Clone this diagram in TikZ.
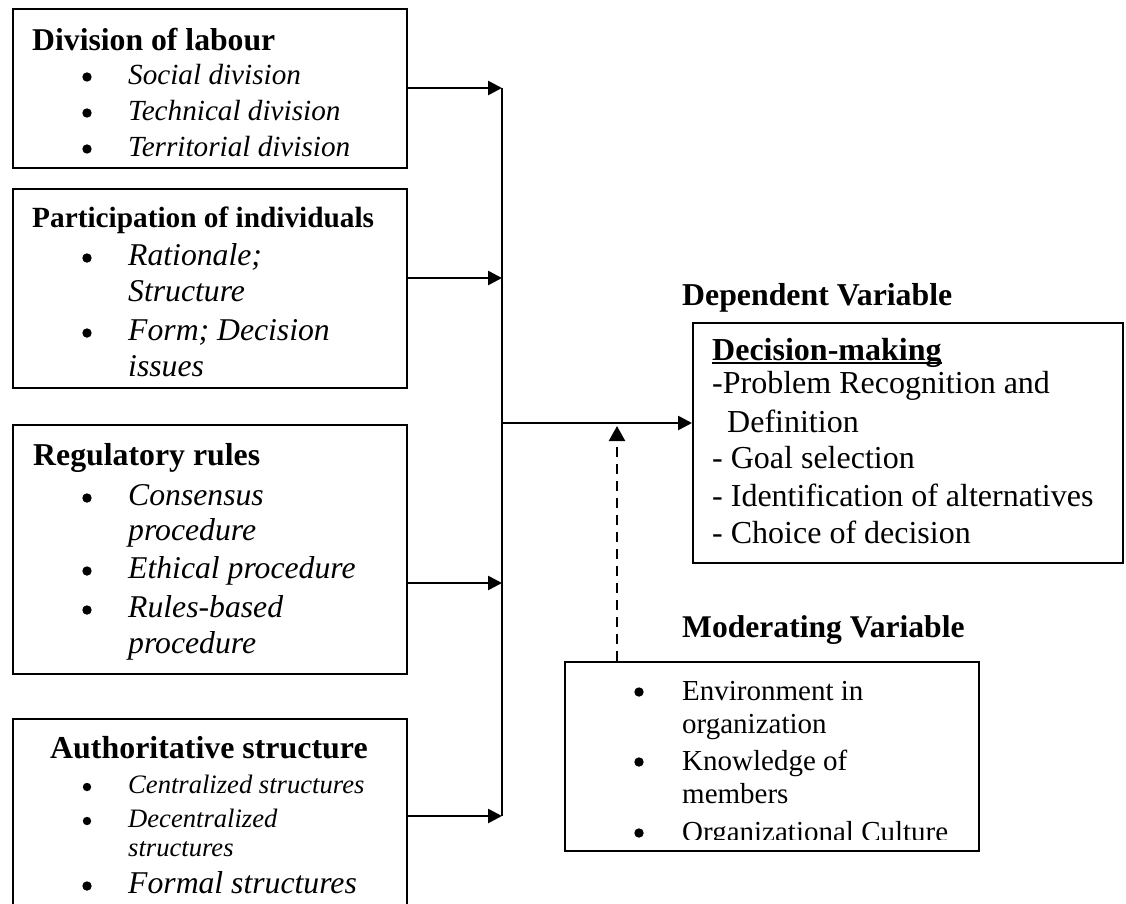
\documentclass[tikz,border=0pt]{standalone}
\usepackage{fontspec}
\setmainfont{Liberation Serif}
\usetikzlibrary{arrows.meta}
\tikzset{
  box/.style={draw, line width=2pt, anchor=north west, inner sep=0pt},
  txt/.style={anchor=base west, inner sep=0pt},
  link/.style={line width=2.6pt},
  arr/.style={line width=2.6pt, -{Triangle[length=14pt,width=14pt]}},
  dasharr/.style={line width=2.4pt, dash pattern=on 10pt off 7pt, -{Triangle[length=15pt,width=16pt]}},
}
\newcommand\fs[1]{\fontsize{#1}{#1}\selectfont}
\newcommand\bul[3]{\fill (#1,#2) circle (#3pt);}
\begin{document}
\begin{tikzpicture}[x=1pt,y=-1pt]
\clip (0,0) rectangle (1126,903);
\fill[white] (0,0) rectangle (1126,903);

% boxes
\node[box, minimum width=394pt, minimum height=159pt] (b1) at (12,8) {};
\node[box, minimum width=394pt, minimum height=199pt] (b2) at (12,188) {};
\node[box, minimum width=394pt, minimum height=249pt] (b3) at (12,424) {};
\node[box, minimum width=394pt, minimum height=200pt] (b4) at (12,718) {};
\node[box, minimum width=430pt, minimum height=240pt] (dep) at (692,322) {};
\node[box, minimum width=414pt, minimum height=189pt] (mod) at (564,661) {};

% box 1
\node[txt] (h1) at (32,50) {\fs{31.7}\bfseries Division of labour};
\bul{87}{77}{4.7}\bul{87}{113}{4.7}\bul{87}{149}{4.7}
\node[txt] (i1a) at (128,84) {\fs{29.2}\itshape Social division};
\node[txt] (i1b) at (128,120) {\fs{29.2}\itshape Technical division};
\node[txt] (i1c) at (128,156) {\fs{29.2}\itshape Territorial division};

% box 2
\node[txt] (h2) at (32,227) {\fs{29.3}\bfseries Participation of individuals};
\bul{87}{258}{4.7}\bul{87}{333}{4.7}
\node[txt] (i2a) at (128,265) {\fs{31.7}\itshape Rationale;};
\node[txt] (i2b) at (128,301) {\fs{31.7}\itshape Structure};
\node[txt] (i2c) at (128,340) {\fs{31.7}\itshape Form; Decision};
\node[txt] (i2d) at (128,376) {\fs{31.7}\itshape issues};

% box 3
\node[txt] (h3) at (33,465) {\fs{31.8}\bfseries Regulatory rules};
\bul{87}{498}{4.7}\bul{87}{571}{4.7}\bul{87}{610}{4.7}
\node[txt] (i3a) at (128,505) {\fs{31.7}\itshape Consensus};
\node[txt] (i3b) at (128,540) {\fs{31.7}\itshape procedure};
\node[txt] (i3c) at (128,578) {\fs{31.7}\itshape Ethical procedure};
\node[txt] (i3d) at (128,617) {\fs{31.7}\itshape Rules-based};
\node[txt] (i3e) at (128,653) {\fs{31.7}\itshape procedure};

% box 4
\node[txt] (h4) at (50,758) {\fs{31.9}\bfseries Authoritative structure};
\bul{87}{787}{4.2}\bul{87}{821}{4.2}\bul{87}{886}{4.7}
\node[txt] (i4a) at (128,793) {\fs{26.6}\itshape Centralized structures};
\node[txt] (i4b) at (128,827) {\fs{26.6}\itshape Decentralized};
\node[txt] (i4c) at (128,856) {\fs{26.6}\itshape structures};
\node[txt] (i4d) at (128,893) {\fs{31.7}\itshape Formal structures};

% dependent
\node[txt] (hdep) at (682,305) {\fs{31.8}\bfseries Dependent Variable};
\node[txt] (dm) at (712,360) {\fs{32}\bfseries Decision-making};
\draw[line width=1.8pt] ([yshift=-3pt]dm.base west) -- ([yshift=-3pt]dm.base east);
\node[txt] (d1) at (712,393) {\fs{32}-Problem Recognition and};
\node[txt] (d2) at (727,432) {\fs{32}Definition};
\node[txt] (d3) at (712,468) {\fs{32}- Goal selection};
\node[txt] (d4) at (712,506) {\fs{32}- Identification of alternatives};
\node[txt] (d5) at (712,543) {\fs{32}- Choice of decision};

% moderating
\node[txt] (hmod) at (682,637) {\fs{31.6}\bfseries Moderating Variable};
\bul{639}{692}{4.7}\bul{639}{762}{4.7}\bul{639}{833}{4.7}
\node[txt] (m1) at (682,700) {\fs{29}Environment in};
\node[txt] (m2) at (682,733) {\fs{29}organization};
\node[txt] (m3) at (682,770) {\fs{29}Knowledge of};
\node[txt] (m4) at (682,803) {\fs{29}members};
\begin{scope}
  \clip (564,661) rectangle (978,839);
  \node[txt] (m5) at (682,841) {\fs{29}Organizational Culture};
\end{scope}

% connectors
\coordinate (j1) at (502,88);
\coordinate (j2) at (502,278);
\coordinate (j3) at (502,583);
\coordinate (j4) at (502,816);
\coordinate (jm) at (502,423);
\coordinate (dt) at (617,426);
\draw[link] (j1) -- (j4);
\draw[arr] (b1.east |- j1) -- (j1);
\draw[arr] (b2.east |- j2) -- (j2);
\draw[arr] (b3.east |- j3) -- (j3);
\draw[arr] (b4.east |- j4) -- (j4);
\draw[arr] (jm) -- (dep.west |- jm);
\draw[dasharr] (mod.north -| dt) -- (dt);
\end{tikzpicture}
\end{document}
